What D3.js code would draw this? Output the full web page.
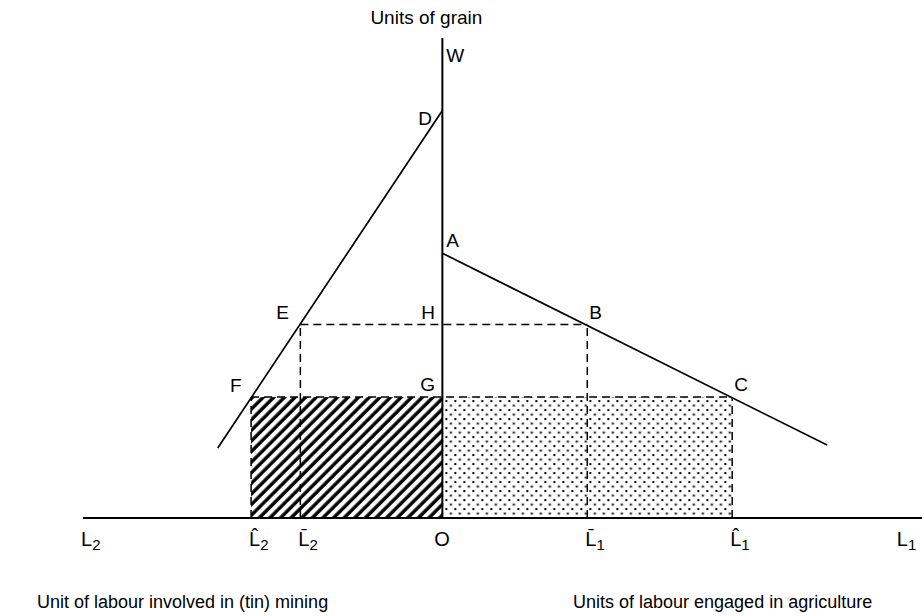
<!DOCTYPE html>
<html>
<head>
<meta charset="utf-8">
<script src="https://cdn.jsdelivr.net/npm/d3@7"></script>
<style>
  body { margin: 0; background: #fff; }
  svg text { font-family: "Liberation Sans", Arial, sans-serif; fill: #000; }
</style>
</head>
<body>
<div id="chart"></div>
<script>
// labour units on x (mining to the left, agriculture to the right), grain on y
var tickNames = ["L", "L\u0302", "L\u0304", "O", "L\u0304", "L\u0302", "L"];
var tickSubs = ["2", "2", "2", "", "1", "1", "1"];
var tickValues = [-24.8, -13.2, -9.8, 0, 10, 20, 31.5];

var wageLow = 10;   // G
var wageHigh = 16;  // H
var lHat2 = -13.2, lBar2 = -9.8, lBar1 = 10, lHat1 = 20;

var mplAgri = [[0, 21.9], [26.55, 6.03]];
var mplMining = [[0, 33.7], [-15.5, 5.79]];

var pointNames = ["W", "D", "A", "H", "B", "E", "G", "C", "F"];
var pointX = [0, 0, 0, 0, lBar1, lBar2, 0, lHat1, lHat2];
var pointY = [39.7, 33.7, 21.9, wageHigh, wageHigh, wageHigh, wageLow, wageLow, wageLow];

var width = 922, height = 616;

var svg = d3.select("#chart").append("svg")
    .attr("width", width)
    .attr("height", height);

var x = d3.scaleLinear().domain([-24.8, 33.1]).range([83, 922]);
var y = d3.scaleLinear().domain([0, 39.7]).range([518, 38]);

var defs = svg.append("defs");
var hatch = defs.append("pattern")
    .attr("id", "hatch")
    .attr("patternUnits", "userSpaceOnUse")
    .attr("width", 7.5).attr("height", 7.5)
    .attr("patternTransform", "rotate(45)");
hatch.append("line")
    .attr("x1", 2).attr("y1", 0).attr("x2", 2).attr("y2", 7.5)
    .attr("stroke", "#000").attr("stroke-width", 3.4);

var dots = defs.append("pattern")
    .attr("id", "dots")
    .attr("patternUnits", "userSpaceOnUse")
    .attr("x", x(0) + 3).attr("y", y(wageLow) + 3)
    .attr("width", 9).attr("height", 9);
dots.append("rect").attr("x", 0).attr("y", 0).attr("width", 2).attr("height", 2).attr("fill", "#000");
dots.append("rect").attr("x", 4.5).attr("y", 4.5).attr("width", 2).attr("height", 2).attr("fill", "#000");

// shaded areas
svg.append("rect")
    .attr("x", x(lHat2)).attr("y", y(wageLow))
    .attr("width", x(0) - x(lHat2)).attr("height", y(0) - y(wageLow))
    .attr("fill", "url(#hatch)");
svg.append("rect")
    .attr("x", x(0)).attr("y", y(wageLow))
    .attr("width", x(lHat1) - x(0)).attr("height", y(0) - y(wageLow))
    .attr("fill", "url(#dots)");

// dashed guides
var dashed = [
  [[lHat2, wageLow], [lHat1, wageLow]],
  [[lHat2, 0], [lHat2, wageLow]],
  [[lHat1, 0], [lHat1, wageLow]],
  [[lBar2, wageHigh], [lBar1, wageHigh]],
  [[lBar2, 0], [lBar2, wageHigh]],
  [[lBar1, 0], [lBar1, wageHigh]]
];
var line = d3.line().x(function(d) { return x(d[0]); }).y(function(d) { return y(d[1]); });

svg.selectAll(".guide")
    .data(dashed)
  .enter().append("path")
    .attr("class", "guide")
    .attr("d", line)
    .attr("fill", "none")
    .attr("stroke", "#000")
    .attr("stroke-width", 1.5)
    .attr("stroke-dasharray", "8,5");

// marginal product lines
svg.selectAll(".mpl")
    .data([mplAgri, mplMining])
  .enter().append("path")
    .attr("class", "mpl")
    .attr("d", line)
    .attr("fill", "none")
    .attr("stroke", "#000")
    .attr("stroke-width", 1.7);

// axes
svg.append("line")
    .attr("x1", x(-24.8)).attr("x2", x(33.1))
    .attr("y1", y(0)).attr("y2", y(0))
    .attr("stroke", "#000").attr("stroke-width", 2);
svg.append("line")
    .attr("x1", x(0)).attr("x2", x(0))
    .attr("y1", y(0)).attr("y2", y(39.7))
    .attr("stroke", "#000").attr("stroke-width", 2);

// axis labels along the labour line
var ticks = svg.selectAll(".tick")
    .data(tickValues)
  .enter().append("text")
    .attr("class", "tick")
    .attr("x", function(d) { return x(d) - (d === 0 ? 8 : 2); })
    .attr("y", y(0) + 28)
    .attr("font-size", 20);
ticks.append("tspan").text(function(d, i) { return tickNames[i]; });
ticks.append("tspan")
    .attr("font-size", 15)
    .attr("dy", 4)
    .text(function(d, i) { return tickSubs[i]; });

// point labels
var offX = [4, -24, 4, -21, 2, -24, -22, 2, -21];
var offY = [24, 14, -6, -6, -6, -6, -6, -6, -5];
svg.selectAll(".pt")
    .data(pointNames)
  .enter().append("text")
    .attr("class", "pt")
    .attr("x", function(d, i) { return x(pointX[i]) + offX[i]; })
    .attr("y", function(d, i) { return y(pointY[i]) + offY[i]; })
    .attr("font-size", 19)
    .text(function(d) { return d; });

svg.append("text")
    .attr("x", x(0) - 16).attr("y", 24)
    .attr("text-anchor", "middle")
    .attr("font-size", 19)
    .text("Units of grain");

svg.append("text")
    .attr("x", 37).attr("y", 608)
    .attr("font-size", 18)
    .text("Unit of labour involved in (tin) mining");
svg.append("text")
    .attr("x", 573).attr("y", 608)
    .attr("font-size", 18)
    .text("Units of labour engaged in agriculture");
</script>
</body>
</html>
